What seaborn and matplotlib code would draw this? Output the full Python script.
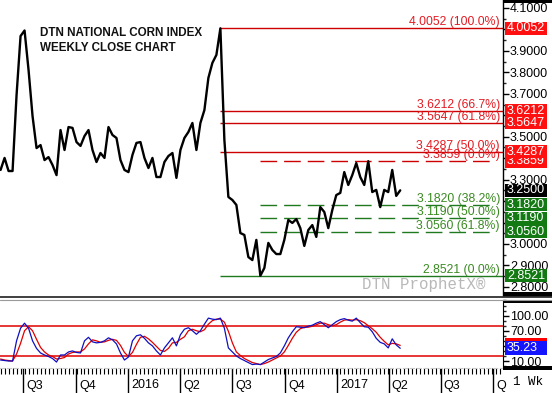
import numpy as np
import pandas as pd
import matplotlib
matplotlib.use("Agg")
import matplotlib.pyplot as plt
import matplotlib.dates as mdates
import seaborn as sns
from matplotlib.patches import Rectangle
from matplotlib.lines import Line2D
from matplotlib.transforms import blended_transform_factory
from matplotlib.ticker import MultipleLocator, FuncFormatter, FixedLocator

# ---------------- data ----------------
start_date = "2015-05-22"
close = [3.345, 3.401, 3.340, 3.340, 3.694, 3.969, 3.995, 3.811, 3.596, 3.447,
         3.461, 3.391, 3.405, 3.368, 3.321, 3.531, 3.438, 3.545, 3.541, 3.475,
         3.457, 3.503, 3.531, 3.438, 3.382, 3.424, 3.401, 3.545, 3.508, 3.494,
         3.391, 3.345, 3.335, 3.415, 3.471, 3.475, 3.401, 3.354, 3.401, 3.312,
         3.312, 3.382, 3.410, 3.424, 3.308, 3.438, 3.494, 3.522, 3.564, 3.438,
         3.564, 3.624, 3.774, 3.844, 3.881, 4.0052, 3.485, 3.219, 3.205, 3.182,
         3.051, 3.042, 2.939, 2.925, 3.019, 2.8521, 2.888, 3.005, 2.972, 2.953,
         2.953, 3.019, 3.112, 3.098, 3.116, 3.074, 2.991, 3.065, 3.088, 3.033,
         3.172, 3.149, 3.074, 3.158, 3.228, 3.238, 3.335, 3.275, 3.321, 3.377,
         3.312, 3.275, 3.3859, 3.242, 3.252, 3.172, 3.252, 3.242, 3.345, 3.224, 3.2500]

stoch_k = [12, 11, 10, 10, 50, 75, 85, 75, 50, 35,
           26, 22, 19, 15, 8, 22, 22, 28, 30, 27,
           26, 50, 57, 48, 46, 47, 50, 56, 52, 44,
           26, 12, 18, 50, 60, 62, 55, 46, 40, 30,
           22, 36, 46, 56, 40, 62, 73, 76, 70, 63,
           70, 83, 95, 93, 92, 95, 75, 36, 28, 20,
           15, 11, 7, 3, 4, 3, 8, 13, 16, 19,
           26, 40, 56, 68, 78, 77, 76, 79, 81, 85,
           88, 82, 76, 82, 88, 92, 94, 91, 89, 95,
           86, 78, 77, 68, 55, 47, 44, 36, 54, 42, 35.23]

stoch_d = [14, 12, 11, 10, 24, 45, 70, 78, 70, 53,
           37, 28, 22, 19, 14, 15, 17, 24, 27, 28,
           28, 34, 44, 52, 50, 47, 48, 51, 53, 51,
           41, 27, 19, 27, 43, 57, 59, 54, 47, 39,
           31, 29, 35, 46, 47, 53, 58, 70, 73, 70,
           68, 72, 83, 90, 93, 93, 87, 69, 46, 28,
           21, 15, 11, 7, 5, 3, 5, 8, 12, 16,
           20, 28, 41, 55, 67, 74, 77, 77, 79, 82,
           85, 85, 82, 80, 82, 87, 91, 92, 91, 92,
           90, 86, 80, 74, 67, 57, 49, 42, 45, 44, 41]

fib_red_levels = [4.0052, 3.6212, 3.5647, 3.4287, 3.3859]
fib_red_labels = ["4.0052 (100.0%)", "3.6212 (66.7%)", "3.5647 (61.8%)",
                  "3.4287 (50.0%)", "3.3859 (0.0%)"]
fib_red_dashed = [False, False, False, False, True]

fib_green_levels = [3.1820, 3.1190, 3.0560, 2.8521]
fib_green_labels = ["3.1820 (38.2%)", "3.1190 (50.0%)", "3.0560 (61.8%)", "2.8521 (0.0%)"]
fib_green_dashed = [True, True, True, False]

last_close = 3.2500
stoch_lines = [80, 20]

quarter_dates = ["2015-07-01", "2015-10-01", "2016-01-01", "2016-04-01", "2016-07-01",
                 "2016-10-01", "2017-01-01", "2017-04-01", "2017-07-01", "2017-10-01"]
quarter_labels = ["Q3", "Q4", "2016", "Q2", "Q3", "Q4", "2017", "Q2", "Q3", "Q"]

price_ticks = [2.8, 2.9, 3.0, 3.1, 3.2, 3.3, 3.4, 3.5, 3.6, 3.7, 3.8, 3.9, 4.0, 4.1]
price_ticks_covered = [3.1, 3.2, 3.4, 3.6, 4.0]
stoch_ticks = [10, 40, 70, 100]
stoch_ticks_covered = [40]

dates = pd.date_range(start_date, periods=len(close), freq="W-FRI")
df = pd.DataFrame({"date": dates, "close": close, "k": stoch_k, "d": stoch_d})

# ---------------- style ----------------
sns.set_style("white")
plt.rcParams["font.family"] = ["Liberation Sans", "DejaVu Sans"]
plt.rcParams["lines.scale_dashes"] = False

W, H = 552, 393
fig = plt.figure(figsize=(W / 100, H / 100), dpi=100)


def fx(px):
    return px / W


def fy(py):
    return 1 - py / H


ax1 = fig.add_axes([0, fy(296), fx(503), 296 / H])
ax2 = fig.add_axes([0, fy(368), fx(503), (368 - 300) / H], sharex=ax1)

RED_LINE = "#cc0000"
RED_TXT = "#e31b23"
RED_BOX = "#ff1010"
GREEN_LINE = "#1f7a1f"
GREEN_TXT = "#3a8a22"
GREEN_BOX = "#137a13"

xmin = pd.Timestamp("2015-05-21")
xmax = pd.Timestamp("2017-10-18")
peak_date = dates[int(np.argmax(close))]
low_date = dates[int(np.argmin(close))]
dash_end = pd.Timestamp("2017-10-01")


def make_fmt(covered, fmt):
    def f(v, pos):
        for c in covered:
            if abs(v - c) < 1e-6:
                return ""
        return fmt % v
    return FuncFormatter(f)


# ---------------- upper panel ----------------
sns.lineplot(data=df, x="date", y="close", ax=ax1, color="black", lw=1.7, zorder=4)

for lvl, lab, dsh in zip(fib_red_levels, fib_red_labels, fib_red_dashed):
    if dsh:
        ax1.hlines(lvl, low_date, dash_end, colors=RED_LINE, lw=1.0,
                   linestyles=(0, (12, 5)), zorder=2)
    else:
        ax1.hlines(lvl, peak_date, xmax, colors=RED_LINE, lw=1.0, zorder=2)
    ax1.text(0.994, lvl, lab, transform=blended_transform_factory(ax1.transAxes, ax1.transData),
             ha="right", va="bottom", color=RED_TXT, fontsize=8.8, zorder=3)

for lvl, lab, dsh in zip(fib_green_levels, fib_green_labels, fib_green_dashed):
    if dsh:
        ax1.hlines(lvl, low_date, dash_end, colors=GREEN_LINE, lw=1.0,
                   linestyles=(0, (12, 5)), zorder=2)
    else:
        ax1.hlines(lvl, peak_date, xmax, colors=GREEN_LINE, lw=1.0, zorder=2)
    ax1.text(0.994, lvl, lab, transform=blended_transform_factory(ax1.transAxes, ax1.transData),
             ha="right", va="bottom", color=GREEN_TXT, fontsize=8.8, zorder=3)

ax1.set_xlim(xmin, xmax)
ax1.set_ylim(2.7575, 4.1371)
ax1.set_xlabel("")
ax1.set_ylabel("")
ax1.yaxis.tick_right()
ax1.yaxis.set_major_locator(FixedLocator(price_ticks))
ax1.yaxis.set_major_formatter(make_fmt(price_ticks_covered, "%.4f"))
ax1.yaxis.set_minor_locator(MultipleLocator(0.05))
ax1.tick_params(axis="y", which="major", direction="out", length=4, width=1, pad=1,
                labelsize=9, colors="black", right=True)
ax1.tick_params(axis="y", which="minor", direction="out", length=2, width=1, right=True)
ax1.tick_params(axis="x", which="both", bottom=False, labelbottom=False)
for s in ["top", "left", "bottom"]:
    ax1.spines[s].set_visible(False)
ax1.spines["right"].set_color("black")
ax1.spines["right"].set_linewidth(1.0)


def box(ax, y, h, text, fc, z=5, x0=505, x1=547):
    trans = blended_transform_factory(fig.transFigure, ax.transData)
    r = Rectangle((fx(x0), y - h / 2), fx(x1) - fx(x0), h, transform=trans,
                  facecolor=fc, edgecolor="none", clip_on=False, zorder=z)
    ax.add_artist(r)
    if text:
        ax.text(fx(x0 + 2), y, text, transform=trans, ha="left", va="center",
                color="white", fontsize=9, clip_on=False, zorder=z + 0.5)


hp = 13 * 0.004661
box(ax1, fib_red_levels[4], hp, f"{fib_red_levels[4]:.4f}", RED_BOX, z=5)
box(ax1, fib_red_levels[3], hp, f"{fib_red_levels[3]:.4f}", RED_BOX, z=6)
box(ax1, fib_red_levels[0], hp, f"{fib_red_levels[0]:.4f}", RED_BOX, z=5)
box(ax1, fib_red_levels[1], hp, f"{fib_red_levels[1]:.4f}", RED_BOX, z=5)
box(ax1, fib_red_levels[2], hp, f"{fib_red_levels[2]:.4f}", RED_BOX, z=6)
for i, lvl in enumerate(fib_green_levels):
    box(ax1, lvl, hp, f"{lvl:.4f}", GREEN_BOX, z=5 + i)
box(ax1, last_close, hp, f"{last_close:.4f}", "black", z=9)

# ---------------- lower panel ----------------
for lvl in stoch_lines:
    ax2.axhline(lvl, color="#e00000", lw=1.1, zorder=1)
sns.lineplot(data=df, x="date", y="d", ax=ax2, color="#e00000", lw=0.9, zorder=3)
sns.lineplot(data=df, x="date", y="k", ax=ax2, color="#1010c0", lw=0.9, zorder=4)
ax2.set_xlim(xmin, xmax)
ax2.set_ylim(-3.8, 130.9)
ax2.set_xlabel("")
ax2.set_ylabel("")
ax2.yaxis.tick_right()
ax2.yaxis.set_major_locator(FixedLocator(stoch_ticks))
ax2.yaxis.set_major_formatter(make_fmt(stoch_ticks_covered, "%.2f"))
ax2.yaxis.set_minor_locator(MultipleLocator(10))
ax2.tick_params(axis="y", which="major", direction="out", length=4, width=1, pad=1,
                labelsize=9, colors="black", right=True)
ax2.tick_params(axis="y", which="minor", direction="out", length=2, width=1, right=True)
for s in ["top", "left"]:
    ax2.spines[s].set_visible(False)
ax2.spines["right"].set_color("black")
ax2.spines["bottom"].set_color("#c8c8c8")
ax2.spines["bottom"].set_linestyle((0, (3, 2)))
ax2.spines["bottom"].set_linewidth(0.8)

qd = pd.to_datetime(quarter_dates)
ax2.xaxis.set_major_locator(FixedLocator(mdates.date2num(qd)))
ax2.xaxis.set_minor_locator(mdates.WeekdayLocator(byweekday=mdates.FR))
ax2.tick_params(axis="x", which="major", direction="out", length=18, width=1,
                color="black", labelbottom=False, bottom=True)
ax2.tick_params(axis="x", which="minor", direction="out", length=4, width=0.8,
                color="black", bottom=True)
for d, lab in zip(qd, quarter_labels):
    ax2.annotate(lab, xy=(d, 0), xycoords=("data", "axes fraction"),
                 xytext=(2.2, -12.6), textcoords="offset points",
                 ha="left", va="center", fontsize=9, color="black",
                 annotation_clip=False)

hs = 14 / 0.505
box(ax2, stoch_d[-1], hs, "", "#ff0000", z=5)
box(ax2, stoch_k[-1], hs, f"{stoch_k[-1]:.2f}", "#1414ff", z=6)

# ---------------- decorations ----------------
fig.text(fx(40), fy(33), "DTN NATIONAL CORN INDEX", fontsize=8.4, fontweight="bold",
         va="center", ha="left", color="#111111")
fig.text(fx(40), fy(48), "WEEKLY CLOSE CHART", fontsize=8.4, fontweight="bold",
         va="center", ha="left", color="#111111")
fig.text(fx(362), fy(285), "DTN ProphetX\u00ae", fontsize=11.3, color="#b8b8b8",
         family=["Liberation Mono", "DejaVu Sans Mono"], va="center", ha="left")
fig.text(fx(513), fy(382), "1 Wk", fontsize=9, color="black",
         family=["Liberation Mono", "DejaVu Sans Mono"], va="center", ha="left")

fig.add_artist(Line2D([0, 1], [fy(297.3), fy(297.3)], transform=fig.transFigure,
                      color="#303030", lw=1.3))
fig.add_artist(Line2D([0, 1], [fy(299.5), fy(299.5)], transform=fig.transFigure,
                      color="#9a9a9a", lw=0.8))
for (y0, y1) in [(0, 3), (292, 297), (300, 303), (366, 370)]:
    fig.add_artist(Rectangle((fx(503), fy(y1)), fx(W) - fx(503), (y1 - y0) / H,
                             transform=fig.transFigure, facecolor="black",
                             edgecolor="none"))

fig.savefig("out.png", dpi=100, facecolor="white")
